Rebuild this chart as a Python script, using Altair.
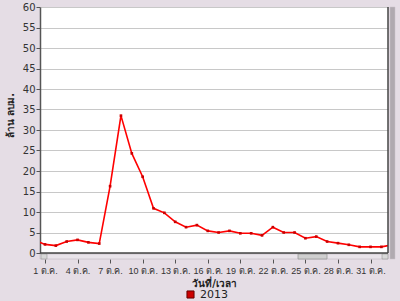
import altair as alt
import pandas as pd

# day of month (0 = 30 Sep, 32 = 1 Nov, 33 = 2 Nov; the ends are clipped)
days = list(range(0, 34))
values = [3.2, 2.1, 1.8, 2.8, 3.2, 2.6, 2.3, 16.3, 33.5, 24.3, 18.6, 10.9, 9.8,
          7.6, 6.3, 6.8, 5.4, 5.0, 5.4, 4.8, 4.8, 4.3, 6.3, 5.0, 5.0, 3.6, 4.0,
          2.8, 2.4, 2.0, 1.5, 1.5, 1.5, 2.0]
tick_days = [1, 4, 7, 10, 13, 16, 19, 22, 25, 28, 31]
y_ticks = list(range(0, 61, 5))
series = "2013"
month_label = "ต.ค."
y_title = "ล้าน ลบม."
x_title = "วันที่/เวลา"

df = pd.DataFrame({"day": days, "value": values, "series": [series] * len(days)})

W, H = 348, 246
FONT = "DejaVu Sans"
XFONT = "Liberation Sans"

x_enc = alt.X(
    "day:Q",
    scale=alt.Scale(domain=[0.54, 32.61], nice=False, zero=False),
    axis=alt.Axis(
        values=tick_days,
        labelExpr=f"datum.value + ' {month_label}'",
        title=x_title,
        titleFont=FONT, titleFontSize=10, titleFontWeight="bold", titleColor="#222",
        titleY=24, titleBaseline="middle",
        labelFont=XFONT, labelFontSize=9, labelColor="#333", labelPadding=3,
        labelOverlap=False, labelFlush=False,
        domain=False, grid=False, offset=6, tickSize=4, tickColor="#555",
    ),
)
y_enc = alt.Y(
    "value:Q",
    scale=alt.Scale(domain=[0, 60], nice=False),
    axis=alt.Axis(
        values=y_ticks,
        title=y_title,
        titleFont=FONT, titleFontSize=10, titleFontWeight="bold", titleColor="#222",
        titleX=-25, titleY=108,
        labelFont=FONT, labelFontSize=10, labelColor="#333", labelPadding=1,
        labelOverlap=False,
        domain=True, domainColor="#555", domainWidth=1.5,
        tickSize=4, tickColor="#555",
        grid=True, gridColor="#c8c8c8", gridWidth=1,
    ),
)

line = alt.Chart(df).mark_line(color="#ff0000", strokeWidth=1.6, clip=True).encode(x=x_enc, y=y_enc)
pts = alt.Chart(df).mark_point(filled=True, shape="square", size=7, opacity=1, clip=True).encode(
    x=x_enc, y=y_enc,
    color=alt.Color("series:N", scale=alt.Scale(domain=[series], range=["#cc0000"]),
                    legend=alt.Legend(title=None, orient="none", legendX=145, legendY=282,
                                      symbolType="square", symbolSize=50,
                                      symbolStrokeColor="#660000", symbolStrokeWidth=1,
                                      labelFont=FONT, labelFontSize=11, labelColor="#222")),
)

deco_df = pd.DataFrame({"k": [0]})
base = alt.Chart(deco_df)
# bottom scroll strip, thumb, right scrollbar, borders
strip = base.mark_rect(fill="#e9e4ea", stroke="#b8b0b8", strokeWidth=0.5).encode(
    x=alt.value(0), x2=alt.value(W), y=alt.value(H + 1), y2=alt.value(H + 6))
thumb = base.mark_rect(fill="#cfcfcf", stroke="#999", strokeWidth=0.8).encode(
    x=alt.value(258), x2=alt.value(287), y=alt.value(H + 1), y2=alt.value(H + 6))
lbtn = base.mark_rect(fill="#d8d8d8", stroke="#888", strokeWidth=0.5).encode(
    x=alt.value(1), x2=alt.value(7), y=alt.value(H + 1), y2=alt.value(H + 6))
rbtn = base.mark_rect(fill="#d8d8d8", stroke="#888", strokeWidth=0.5).encode(
    x=alt.value(W - 6), x2=alt.value(W), y=alt.value(H + 1), y2=alt.value(H + 6))
vbar = base.mark_rect(fill="#b0aab0", stroke="#c8c2c8", strokeWidth=0.5).encode(
    x=alt.value(W + 2), x2=alt.value(W + 7), y=alt.value(0), y2=alt.value(H + 6))
bottom = base.mark_rule(color="#444", strokeWidth=1.5).encode(
    x=alt.value(0), x2=alt.value(W), y=alt.value(H))
right = base.mark_rule(color="#444", strokeWidth=1.5).encode(
    x=alt.value(W), y=alt.value(0), y2=alt.value(H))

chart = alt.layer(line, pts, strip, thumb, lbtn, rbtn, vbar, bottom, right).properties(
    width=W, height=H,
    autosize=alt.AutoSizeParams(type="none"),
    padding={"left": 40, "top": 7, "right": 12, "bottom": 48},
    background="#e5dde5",
).configure_view(stroke=None, fill="#ffffff")

chart.save("out.html", embed_options={"renderer": "svg", "actions": False})
